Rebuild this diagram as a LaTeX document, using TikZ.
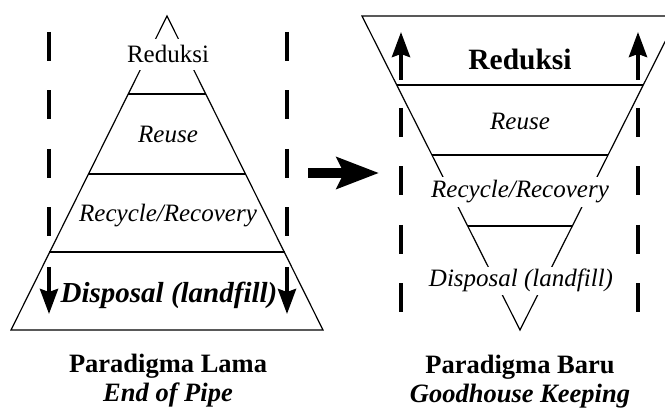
\documentclass[tikz,border=0pt]{standalone}
\usepackage{fontspec}
\setmainfont{Liberation Serif}
\usetikzlibrary{arrows.meta}
\begin{document}
\begin{tikzpicture}[x=1pt,y=-1pt,
  pyr/.style={line width=1.2pt, line join=miter},
  lvl/.style={line width=1.2pt},
  dashv/.style={line width=4.5pt, dash pattern=on 29pt off 29.5pt},
  vup/.style={line width=4pt, -{Stealth[length=25pt,width=18pt,inset=3pt]}},
  txt/.style={inner sep=0pt, anchor=base},
  knock/.style={fill=white, inner sep=4pt, anchor=base},
  normalt/.style={font=\fontsize{25}{30}\selectfont},
  bigb/.style={font=\fontsize{29.5}{34}\selectfont\bfseries},
  bigbi/.style={font=\fontsize{29}{34}\selectfont\bfseries\itshape},
  capt/.style={font=\fontsize{26.5}{32}\selectfont\bfseries},
  capti/.style={font=\fontsize{26.5}{32}\selectfont\bfseries\itshape}]
\useasboundingbox (0,0) rectangle (665,409);
\clip (0,0) rectangle (665,409);
% ---------- left pyramid ----------
\coordinate (LA) at (167,16);
\coordinate (LBL) at (11,330);
\coordinate (LBR) at (323,330);
\draw[pyr] (LA) -- (LBL) -- (LBR) -- cycle;
\draw[lvl] (128,94) -- (206,94);
\draw[lvl] (88,174) -- (246,174);
\draw[lvl] (49,252) -- (285,252);
% dashed guides left
\coordinate (LD1s) at (49,32);  \coordinate (LD1e) at (49,237);
\coordinate (LD2s) at (287,32); \coordinate (LD2e) at (287,237);
\draw[dashv] (LD1s) -- (LD1e);
\draw[dashv] (LD2s) -- (LD2e);
\coordinate (LA1s) at (49,267);  \coordinate (LA1e) at (49,314);
\coordinate (LA2s) at (287,267); \coordinate (LA2e) at (287,314);
\draw[vup] (LA1s) -- (LA1e);
\draw[vup] (LA2s) -- (LA2e);
% texts left
\node[normalt, fill=white, inner sep=7pt, anchor=base] (lred) at (168,63) {Reduksi};
\node[normalt, txt] (lreu) at (168,143) {\itshape Reuse};
\node[normalt, txt] (lrec) at (168,222) {\itshape Recycle/Recovery};
\node[bigbi, txt] (ldis) at (169,302) {Disposal (landfill)};
\node[capt, txt] (lcap1) at (168,372) {Paradigma Lama};
\node[capti, txt] (lcap2) at (168,401) {End of Pipe};
% ---------- big arrow ----------
\coordinate (arrS) at (308,173);
\coordinate (arrE) at (379,173);
\draw[line width=10pt, -{Stealth[length=42pt,width=31pt,inset=7pt]}] (arrS) -- (arrE);
% ---------- right pyramid ----------
\coordinate (RTL) at (362,16);
\coordinate (RTR) at (678,16);
\coordinate (RB) at (520,330);
\draw[pyr] (RTL) -- (RTR) -- (RB) -- cycle;
\draw[lvl] (396.7,85) -- (643.3,85);
\draw[lvl] (431.9,155) -- (608.1,155);
\draw[lvl] (467.7,226) -- (572.3,226);
% dashed guides right
\coordinate (RD1s) at (401,108); \coordinate (RD1e) at (401,313);
\coordinate (RD2s) at (638,108); \coordinate (RD2e) at (638,313);
\draw[dashv] (RD1s) -- (RD1e);
\draw[dashv] (RD2s) -- (RD2e);
\coordinate (RA1s) at (401,80); \coordinate (RA1e) at (401,32);
\coordinate (RA2s) at (638,80); \coordinate (RA2e) at (638,32);
\draw[vup] (RA1s) -- (RA1e);
\draw[vup] (RA2s) -- (RA2e);
% texts right
\node[bigb, txt] (rred) at (520,70) {Reduksi};
\node[normalt, txt] (rreu) at (520,130) {\itshape Reuse};
\node[normalt, knock] (rrec) at (520,198) {\itshape Recycle/Recovery};
\node[normalt, fill=white, inner sep=2.5pt, anchor=base] (rdis) at (521,287) {\itshape Disposal (landfill)};
\node[capt, txt] (rcap1) at (520,373) {Paradigma Baru};
\node[capti, txt] (rcap2) at (520,402) {Goodhouse Keeping};
\end{tikzpicture}
\end{document}
